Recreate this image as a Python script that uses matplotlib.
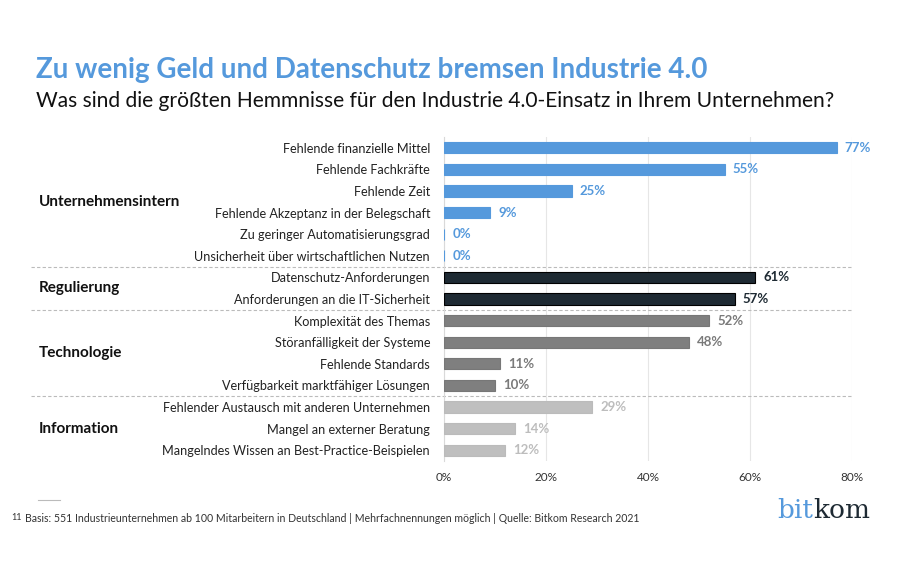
import matplotlib
matplotlib.use("Agg")
import matplotlib.pyplot as plt
from matplotlib.lines import Line2D

plt.rcParams['font.family'] = ['Lato', 'DejaVu Sans']

# data
labels = ["Fehlende finanzielle Mittel",
          "Fehlende Fachkräfte",
          "Fehlende Zeit",
          "Fehlende Akzeptanz in der Belegschaft",
          "Zu geringer Automatisierungsgrad",
          "Unsicherheit über wirtschaftlichen Nutzen",
          "Datenschutz-Anforderungen",
          "Anforderungen an die IT-Sicherheit",
          "Komplexität des Themas",
          "Störanfälligkeit der Systeme",
          "Fehlende Standards",
          "Verfügbarkeit marktfähiger Lösungen",
          "Fehlender Austausch mit anderen Unternehmen",
          "Mangel an externer Beratung",
          "Mangelndes Wissen an Best-Practice-Beispielen"]
values = [77, 55, 25, 9, 0, 0, 61, 57, 52, 48, 11, 10, 29, 14, 12]
groups = ["Unternehmensintern", "Regulierung", "Technologie", "Information"]
group_sizes = [6, 2, 4, 3]
xticks = [0, 20, 40, 60, 80]

bar_colors = ["#5599dc", "#1e2a33", "#7f7f7f", "#bfbfbf"]
text_colors = ["#5599dc", "#1e2a33", "#7a7a7a", "#bdbdbd"]
edge_colors = ["#5599dc", "#000000", "#777777", "#bbbbbb"]

fig = plt.figure(figsize=(9, 5.63), dpi=100)
ax = fig.add_axes([444/900, 1-461/563, 408/900, (461-137)/563])

n = len(labels)
ys = list(range(n))
row_group = []
for g, s in enumerate(group_sizes):
    row_group += [g] * s

for y, v, g in zip(ys, values, row_group):
    ax.barh(y, v, height=0.52, color=bar_colors[g], edgecolor=edge_colors[g],
            linewidth=0.8, zorder=3)
    ax.text(v + 1.6, y, f"{v}%", va="center", ha="left", fontsize=9.5,
            fontweight="bold", color=text_colors[g], clip_on=False)

ax.set_xlim(0, 80)
ax.set_ylim(n - 0.5, -0.5)
ax.set_xticks(xticks)
ax.set_xticklabels([f"{t}%" for t in xticks], fontsize=8.5, color="#333333")
ax.set_yticks(ys)
ax.set_yticklabels(labels, fontsize=9.1, color="#222222")
ax.tick_params(axis="both", length=0)
ax.tick_params(axis="y", pad=10)
ax.tick_params(axis="x", pad=8)
for sp in ["top", "right", "bottom"]:
    ax.spines[sp].set_visible(False)
ax.spines["left"].set_color("#d9d9d9")
ax.grid(axis="x", color="#e6e6e6", linewidth=0.8, zorder=0)

# group labels and dashed separators
start = 0
for name, s in zip(groups, group_sizes):
    mid = start + (s - 1) / 2
    ax.text(-79.5, mid, name, ha="left", va="center", fontsize=11,
            fontweight="bold", color="#111111", clip_on=False)
    if start + s < n:
        ax.add_line(Line2D([-81, 80], [start + s - 0.5] * 2, color="#bbbbbb",
                           linestyle=(0, (3, 2)), linewidth=0.8, clip_on=False))
    start += s

fig.text(36/900, 1-70/563, "Zu wenig Geld und Datenschutz bremsen Industrie 4.0",
         fontsize=20, fontweight="bold", color="#5599dc", va="center")
fig.text(36/900, 1-101/563,
         "Was sind die größten Hemmnisse für den Industrie 4.0-Einsatz in Ihrem Unternehmen?",
         fontsize=15.1, color="#111111", va="center")

# footer
fig.add_artist(Line2D([38/900, 60/900], [1-500/563] * 2, color="#bbbbbb", linewidth=0.8))
fig.text(11/900, 1-518/563, "11", fontsize=6.5, color="#333333", va="center")
fig.text(25/900, 1-518/563,
         "Basis: 551 Industrieunternehmen ab 100 Mitarbeitern in Deutschland | "
         "Mehrfachnennungen möglich | Quelle: Bitkom Research 2021",
         fontsize=7.6, color="#333333", va="center")
fig.text(777/900, 1-510/563, "bit", fontsize=19, color="#5599dc",
         family="DejaVu Serif", va="center")
fig.text(813/900, 1-510/563, "kom", fontsize=19, color="#1e2a33",
         family="DejaVu Serif", va="center")

fig.savefig("out.png", dpi=100)
